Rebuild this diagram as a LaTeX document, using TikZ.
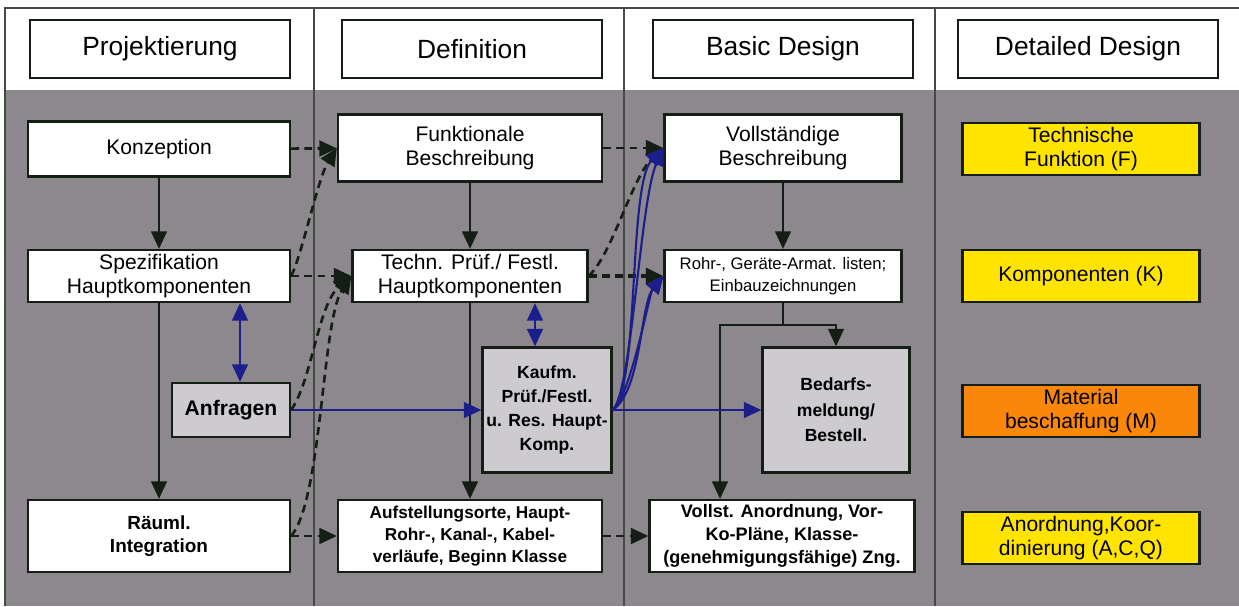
\documentclass[tikz,border=0pt]{standalone}
\usepackage{fontspec}
\setmainfont{Liberation Sans}
\usetikzlibrary{arrows.meta}
\def\px{0.02cm}
\definecolor{bg}{RGB}{141,136,141}
\definecolor{pale}{RGB}{205,203,207}
\definecolor{ink}{RGB}{20,30,20}
\definecolor{navy}{RGB}{28,30,140}
\definecolor{gelb}{RGB}{255,228,0}
\definecolor{orng}{RGB}{250,135,10}

\begin{document}
\begin{tikzpicture}[x=\px,y=-\px,
    box/.style={draw=ink,line width=1.3pt,fill=white,align=center,inner sep=2pt,font=\fontsize{12}{13.5}\selectfont},
    head/.style={box,minimum width=260*\px,minimum height=58*\px,font=\fontsize{15}{17}\selectfont},
    kbox/.style={box,fill=pale,font=\bfseries\fontsize{10}{13.8}\selectfont},
    bbox/.style={box,font=\bfseries\fontsize{10.3}{13}\selectfont},
    detail/.style={box,fill=gelb,minimum width=237*\px,minimum height=52*\px},
    flow/.style={-{Triangle[length=10pt,width=9pt]},line width=1.2pt,ink},
    dflow/.style={flow,line width=1.5pt,dash pattern=on 4.5pt off 3pt},
    bflow/.style={flow,navy},
    bboth/.style={bflow,{Triangle[length=10pt,width=9pt]}-{Triangle[length=10pt,width=9pt]}}]
    \useasboundingbox (0,0) rectangle (1239,606);
    \fill[white] (0,0) rectangle (1239,606);
    \fill[bg] (5,90) rectangle (1239,606);
    \draw[ink!80,line width=0.8pt] (5,606) |- (1239,8);
    \foreach \x in {314,624,935}
      \draw[ink!80,line width=0.6pt] (\x,8) -- (\x,606);
    \foreach \x/\t/\n in {160/Projektierung/hp,472/Definition/hd,783/Basic Design/hb,1088/Detailed Design/hdd}
      \node[head] (\n) at (\x,49) {\t};

    \node[box,minimum width=262*\px,minimum height=55*\px] (konz) at (159,149) {Konzeption};
    \node[box,minimum width=262*\px,minimum height=52*\px] (spez) at (159,276) {Spezifikation\\Hauptkomponenten};
    \node[kbox,minimum width=118*\px,minimum height=54*\px,font=\bfseries\fontsize{12}{13.5}\selectfont] (anf) at (231,410) {Anfragen};
    \node[bbox,minimum width=262*\px,minimum height=72*\px,font=\bfseries\fontsize{10.8}{13.5}\selectfont] (raeuml) at (159,536) {R\"auml.\\Integration};

    \node[box,minimum width=264*\px,minimum height=67*\px] (funk) at (470,148) {Funktionale\\Beschreibung};
    \node[box,minimum width=235*\px,minimum height=52*\px] (techn) at (470,276) {Techn. Pr\"uf./ Festl.\\Hauptkomponenten};
    \node[kbox,minimum width=129*\px,minimum height=125*\px] (kaufm) at (547,410) {Kaufm.\\Pr\"uf./Festl.\\u. Res. Haupt-\\Komp.};
    \node[bbox,minimum width=264*\px,minimum height=72*\px,font=\bfseries\fontsize{9.8}{12.5}\selectfont] (aufst) at (470,536) {Aufstellungsorte, Haupt-\\Rohr-, Kanal-, Kabel-\\verl\"aufe, Beginn Klasse};

    \node[box,minimum width=237*\px,minimum height=67*\px] (voll) at (783,148) {Vollst\"andige\\Beschreibung};
    \node[box,minimum width=237*\px,minimum height=52*\px,font=\fontsize{9.5}{12.5}\selectfont] (rohr) at (783,276) {Rohr-, Ger\"ate-Armat. listen;\\Einbauzeichnungen};
    \node[kbox,minimum width=147*\px,minimum height=125*\px,font=\bfseries\fontsize{10}{14.5}\selectfont] (bed) at (836,410) {Bedarfs-\\meldung/\\Bestell.};
    \node[bbox,minimum width=265*\px,minimum height=72*\px] (vollan) at (782,536) {Vollst. Anordnung, Vor-\\Ko-Pl\"ane, Klasse-\\(genehmigungsf\"ahige) Zng.};

    \node[detail] (tf) at (1081,149) {Technische\\Funktion (F)};
    \node[detail] (komp) at (1081,276) {Komponenten (K)};
    \node[detail,fill=orng] (mat) at (1081,411) {Material\\beschaffung (M)};
    \node[detail] (anord) at (1081,538) {Anordnung,Koor-\\dinierung (A,C,Q)};

    \draw[flow] (konz) -- (spez);
    \draw[flow] (spez) -- (raeuml);
    \draw[flow] (funk) -- (techn);
    \draw[flow] (techn) -- (aufst);
    \draw[flow] (voll) -- (rohr);
    \coordinate (split) at (783,325);
    \coordinate (lft) at (720,325);
    \draw[line width=1.2pt,ink] (rohr.south) -- (split);
    \draw[flow] (split) -| (bed.north);
    \draw[flow] (split) -- (lft) -- (lft |- vollan.north);

    \draw[dflow] (konz) -- (funk);
    \draw[dflow] (spez) -- (techn);
    \draw[dflow] (raeuml) -- (aufst);
    \draw[dflow] (funk) -- (voll);
    \draw[dflow,line width=2.2pt] (techn) -- (rohr);
    \draw[dflow] (aufst) -- (vollan);
    \draw[dflow] (spez.east) .. controls (302,255) and (318,178) .. (funk.west);
    \draw[dflow] (anf.east) .. controls (312,380) and (318,305) .. (techn.west);
    \draw[dflow] (raeuml.east) .. controls (322,500) and (322,320) .. (techn.west);
    \draw[dflow] (techn.east) .. controls (612,255) and (632,178) .. (voll.west);

    \draw[bboth] ([xshift=9*\px]anf.north |- spez.south) -- ([xshift=9*\px]anf.north);
    \draw[bboth] ([xshift=-12*\px]kaufm.north |- techn.south) -- ([xshift=-12*\px]kaufm.north);
    \draw[bflow] (anf) -- (kaufm);
    \draw[bflow] (kaufm) -- (bed);
    \draw[bflow] (kaufm.east) .. controls (640,385) and (628,185) .. (voll.west);
    \draw[bflow] (kaufm.east) .. controls (632,392) and (640,200) .. (voll.west);
    \draw[bflow] (kaufm.east) .. controls (642,390) and (640,305) .. (rohr.west);
    \draw[bflow] (kaufm.east) .. controls (630,398) and (650,292) .. (rohr.west);
\end{tikzpicture}
\end{document}
